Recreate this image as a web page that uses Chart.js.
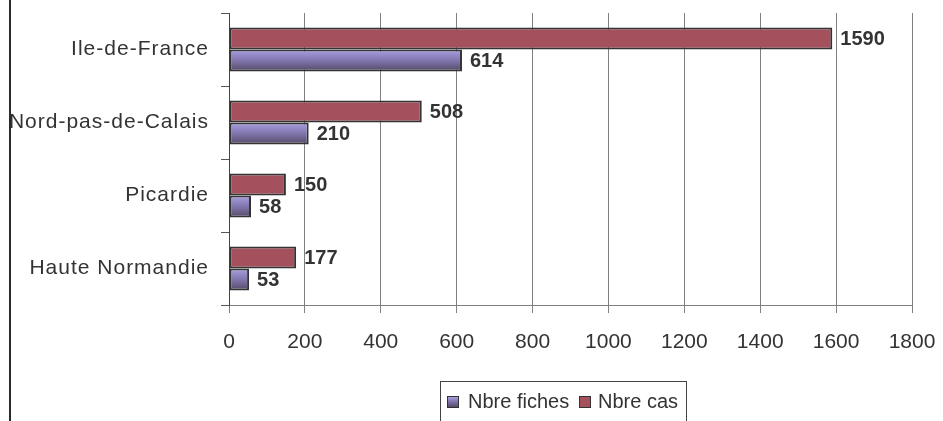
<!DOCTYPE html>
<html>
<head>
<meta charset="utf-8">
<script src="https://cdn.jsdelivr.net/npm/chart.js@4"></script>
<style>
  html, body { margin:0; padding:0; background:#fff; }
  #wrap { position:relative; width:943px; height:421px; overflow:hidden; font-family:"Liberation Sans", Arial, sans-serif; }
  #c { position:absolute; left:0; top:0; }
  #vline { position:absolute; left:9px; top:0; width:2px; height:421px; background:#2a2a2a; }
  #legend { position:absolute; left:440px; top:381px; width:247px; height:50px; border:1px solid #444; box-sizing:border-box; }
  .sw { position:absolute; top:14px; width:10px; height:10px; border:1px solid #333; }
  .lt { position:absolute; top:8px; font-size:20px; color:#333; line-height:22px; white-space:nowrap; }
</style>
</head>
<body>
<div id="wrap">
  <canvas id="c" width="943" height="421"></canvas>
  <div id="vline"></div>
  <div id="legend">
    <div class="sw" style="left:6px;background:linear-gradient(#a89ee0,#7d72aa,#554b66);"></div>
    <div class="lt" style="left:27px;">Nbre fiches</div>
    <div class="sw" style="left:138px;background:#a5505d;"></div>
    <div class="lt" style="left:157px;">Nbre cas</div>
  </div>
</div>
<script>
const categories = ["Ile-de-France", "Nord-pas-de-Calais", "Picardie", "Haute Normandie"];
const nbreCas = [1590, 508, 150, 177];
const nbreFiches = [614, 210, 58, 53];
const xTicksMax = 1800;
const xTickStep = 200;

const CAT_PCT = 0.6;

function fichesGradient(ctx) {
  const chart = ctx.chart;
  if (!chart.chartArea || !chart.scales.y) return '#8479b4';
  const ys = chart.scales.y;
  const center = ys.getPixelForValue(ctx.dataIndex);
  const band = (ys.bottom - ys.top) / categories.length;
  const h = band * CAT_PCT / 2;
  const g = chart.ctx.createLinearGradient(0, center, 0, center + h);
  g.addColorStop(0, '#aaa0e2');
  g.addColorStop(0.5, '#8276ae');
  g.addColorStop(1, '#544a63');
  return g;
}

const spacingPlugin = {
  id: 'ySpacing',
  beforeDraw(chart) {
    const y = chart.scales.y;
    if (y && !y._spacedWrap) {
      const orig = y.drawLabels.bind(y);
      y.drawLabels = function (ca) {
        const c = this.ctx;
        c.save();
        c.letterSpacing = '1px';
        orig(ca);
        c.restore();
      };
      y._spacedWrap = true;
    }
  }
};

const labelPlugin = {
  id: 'valueLabels',
  afterDatasetsDraw(chart) {
    const c = chart.ctx;
    c.save();
    c.font = 'bold 20px "Liberation Sans", Arial, sans-serif';
    c.fillStyle = '#333';
    c.textAlign = 'left';
    c.textBaseline = 'middle';
    chart.data.datasets.forEach((ds, di) => {
      const meta = chart.getDatasetMeta(di);
      meta.data.forEach((el, i) => {
        c.fillText(String(ds.data[i]), el.x + 8, el.y + 1);
      });
    });
    c.restore();
  }
};

new Chart(document.getElementById('c'), {
  type: 'bar',
  data: {
    labels: categories,
    datasets: [
      { label: 'Nbre cas', data: nbreCas, backgroundColor: '#a5505d', borderColor: '#333', borderWidth: 2, borderSkipped: false },
      { label: 'Nbre fiches', data: nbreFiches, backgroundColor: fichesGradient, borderColor: '#333', borderWidth: 2, borderSkipped: false }
    ]
  },
  options: {
    indexAxis: 'y',
    responsive: false,
    animation: false,
    devicePixelRatio: 1,
    categoryPercentage: CAT_PCT,
    barPercentage: 1.0,
    layout: { padding: { top: 13, right: 31, bottom: 0, left: 0 } },
    plugins: { legend: { display: false }, tooltip: { enabled: false } },
    scales: {
      x: {
        min: 0, max: xTicksMax,
        ticks: { stepSize: xTickStep, color: '#333', padding: 17, font: { family: '"Liberation Sans", Arial, sans-serif', size: 21 },
                 callback: (v) => String(v) },
        grid: { color: '#808080', lineWidth: 1, tickLength: 8, drawTicks: true },
        border: { color: '#808080', width: 1 },
        afterFit(s) { s.height = 116; s.paddingLeft = 0; s.paddingRight = 0; }
      },
      y: {
        ticks: { color: '#333', padding: 12, font: { family: '"Liberation Sans", Arial, sans-serif', size: 21 } },
        grid: { drawOnChartArea: false, color: '#555', tickLength: 8, offset: true },
        border: { color: '#444', width: 1 },
        afterFit(s) { s.width = 229; s.paddingTop = 0; s.paddingBottom = 0; }
      }
    }
  },
  plugins: [spacingPlugin, labelPlugin]
});
</script>
</body>
</html>
